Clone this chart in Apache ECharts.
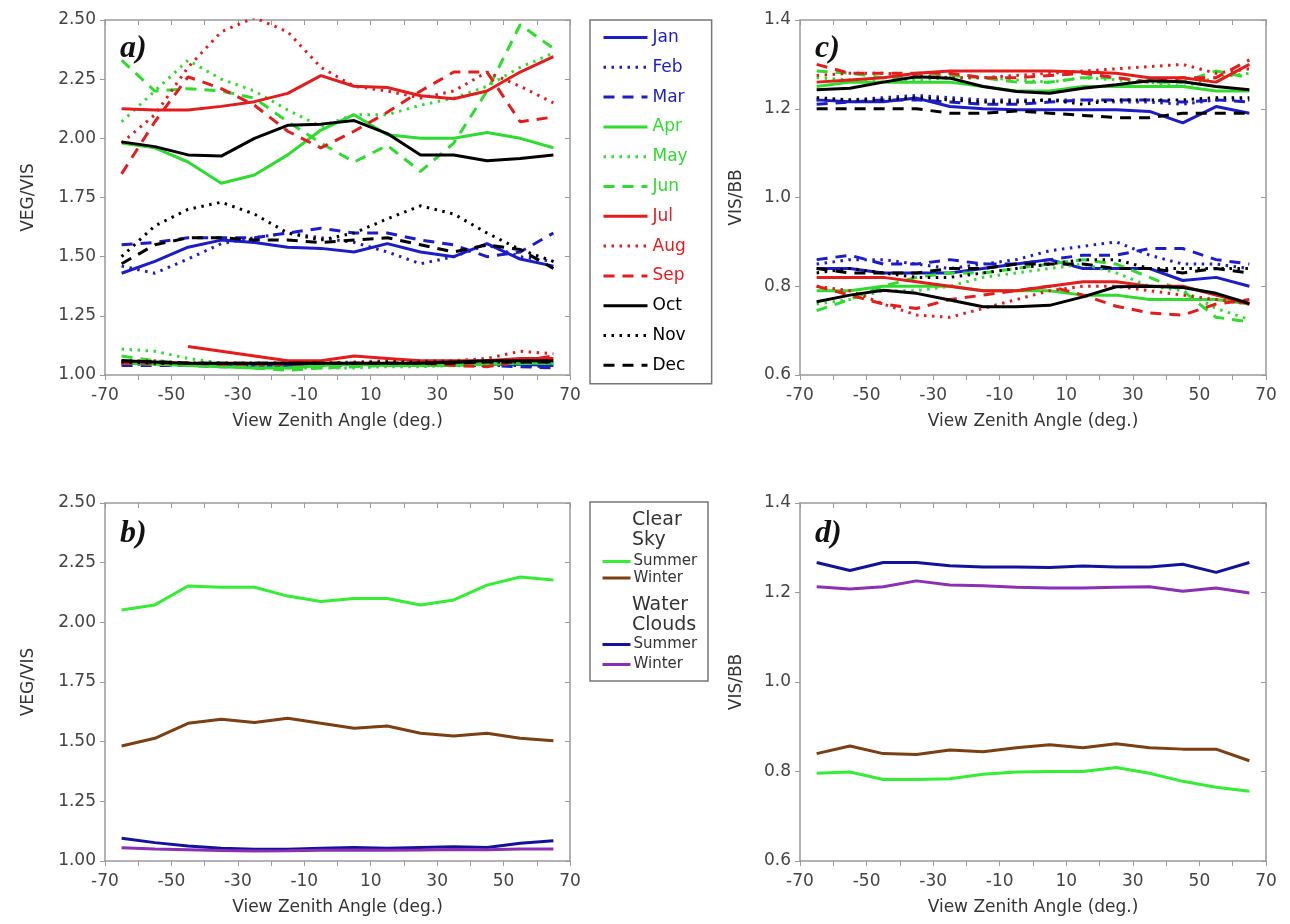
<!DOCTYPE html>
<html lang="en">
<head>
<meta charset="UTF-8">
<title>VEG/VIS and VIS/BB vs View Zenith Angle</title>
<script src="https://cdn.jsdelivr.net/npm/echarts@6.0.0/dist/echarts.min.js"></script>
<style>html, body { margin: 0; background: #fff; }</style>
</head>
<body>
<div id="main" style="width: 1290px; height: 924px;"></div>
<script>
// x positions (view zenith angle, deg.)
const angles = [-65, -55, -45, -35, -25, -15, -5, 5, 15, 25, 35, 45, 55, 65];
const months = ['Jan', 'Feb', 'Mar', 'Apr', 'May', 'Jun', 'Jul', 'Aug', 'Sep', 'Oct', 'Nov', 'Dec'];

// panel a) VEG/VIS, clear sky, one row per month
const vegVisClear = [
  [1.43, 1.48, 1.54, 1.57, 1.56, 1.54, 1.535, 1.52, 1.555, 1.52, 1.5, 1.555, 1.49, 1.46],     // Jan
  [1.46, 1.43, 1.49, 1.555, 1.58, 1.6, 1.58, 1.56, 1.52, 1.47, 1.5, 1.55, 1.5, 1.48],         // Feb
  [1.55, 1.56, 1.58, 1.58, 1.58, 1.6, 1.62, 1.6, 1.6, 1.57, 1.55, 1.5, 1.52, 1.6],            // Mar
  [1.98, 1.96, 1.9, 1.81, 1.845, 1.93, 2.035, 2.1, 2.015, 2.0, 2.0, 2.025, 2.0, 1.96],        // Apr
  [2.07, 2.2, 2.33, 2.25, 2.2, 2.12, 2.05, 2.1, 2.1, 2.14, 2.17, 2.22, 2.3, 2.36],            // May
  [2.33, 2.2, 2.21, 2.2, 2.17, 2.07, 1.98, 1.9, 1.97, 1.86, 1.98, 2.2, 2.48, 2.38],           // Jun
  [2.125, 2.12, 2.12, 2.135, 2.155, 2.19, 2.265, 2.22, 2.215, 2.18, 2.167, 2.2, 2.28, 2.345], // Jul
  [1.98, 2.1, 2.3, 2.45, 2.51, 2.45, 2.3, 2.22, 2.2, 2.17, 2.2, 2.28, 2.22, 2.15],            // Aug
  [1.85, 2.07, 2.26, 2.21, 2.14, 2.03, 1.96, 2.03, 2.11, 2.2, 2.28, 2.28, 2.07, 2.09],        // Sep
  [1.985, 1.965, 1.93, 1.925, 2.0, 2.055, 2.06, 2.075, 2.02, 1.93, 1.93, 1.905, 1.915, 1.93], // Oct
  [1.5, 1.63, 1.7, 1.73, 1.68, 1.6, 1.57, 1.6, 1.66, 1.715, 1.68, 1.6, 1.53, 1.48],           // Nov
  [1.47, 1.55, 1.58, 1.58, 1.57, 1.57, 1.56, 1.57, 1.58, 1.55, 1.52, 1.55, 1.53, 1.45]        // Dec
];
// panel a) VEG/VIS, water clouds
const vegVisCloud = [
  [1.05, 1.05, 1.045, 1.04, 1.04, 1.04, 1.045, 1.045, 1.045, 1.045, 1.045, 1.045, 1.045, 1.04],
  [1.045, 1.045, 1.04, 1.04, 1.035, 1.04, 1.04, 1.045, 1.045, 1.045, 1.04, 1.04, 1.04, 1.035],
  [1.04, 1.04, 1.04, 1.035, 1.035, 1.035, 1.04, 1.04, 1.04, 1.04, 1.04, 1.04, 1.035, 1.03],
  [1.05, 1.045, 1.04, 1.035, 1.03, 1.03, 1.04, 1.045, 1.04, 1.04, 1.04, 1.045, 1.05, 1.05],
  [1.11, 1.1, 1.07, 1.05, 1.04, 1.03, 1.03, 1.03, 1.035, 1.035, 1.04, 1.045, 1.05, 1.05],
  [1.08, 1.06, 1.05, 1.04, 1.03, 1.02, 1.03, 1.035, 1.04, 1.04, 1.045, 1.05, 1.05, 1.05],
  [null, null, 1.12, 1.1, 1.08, 1.06, 1.06, 1.08, 1.07, 1.06, 1.06, 1.06, 1.07, 1.07],
  [1.06, 1.06, 1.05, 1.05, 1.05, 1.05, 1.05, 1.055, 1.06, 1.06, 1.06, 1.07, 1.1, 1.09],
  [1.05, 1.05, 1.05, 1.045, 1.045, 1.045, 1.05, 1.05, 1.05, 1.05, 1.04, 1.035, 1.06, 1.08],
  [1.06, 1.055, 1.05, 1.05, 1.05, 1.05, 1.05, 1.05, 1.05, 1.05, 1.055, 1.06, 1.06, 1.06],
  [1.055, 1.05, 1.05, 1.05, 1.05, 1.05, 1.05, 1.05, 1.055, 1.055, 1.055, 1.055, 1.055, 1.055],
  [1.06, 1.055, 1.05, 1.05, 1.05, 1.05, 1.05, 1.05, 1.05, 1.05, 1.05, 1.055, 1.055, 1.055]
];
// panel c) VIS/BB, clear sky
const visBbClear = [
  [1.22, 1.216, 1.216, 1.224, 1.205, 1.2, 1.198, 1.198, 1.198, 1.198, 1.194, 1.168, 1.205, 1.19],
  [1.22, 1.22, 1.225, 1.23, 1.225, 1.22, 1.22, 1.22, 1.22, 1.215, 1.215, 1.21, 1.22, 1.22],
  [1.21, 1.215, 1.22, 1.22, 1.215, 1.21, 1.21, 1.215, 1.22, 1.22, 1.22, 1.215, 1.22, 1.215],
  [1.25, 1.26, 1.26, 1.26, 1.26, 1.25, 1.24, 1.24, 1.25, 1.25, 1.25, 1.25, 1.24, 1.24],
  [1.27, 1.265, 1.26, 1.265, 1.27, 1.27, 1.265, 1.26, 1.27, 1.265, 1.26, 1.25, 1.27, 1.28],
  [1.285, 1.28, 1.27, 1.27, 1.275, 1.27, 1.26, 1.26, 1.27, 1.27, 1.26, 1.26, 1.285, 1.27],
  [1.26, 1.265, 1.27, 1.28, 1.285, 1.285, 1.285, 1.285, 1.283, 1.28, 1.27, 1.27, 1.26, 1.3],
  [1.275, 1.28, 1.28, 1.275, 1.27, 1.27, 1.275, 1.28, 1.285, 1.29, 1.295, 1.3, 1.28, 1.29],
  [1.3, 1.28, 1.28, 1.28, 1.28, 1.27, 1.27, 1.275, 1.28, 1.27, 1.26, 1.27, 1.27, 1.31],
  [1.243, 1.246, 1.26, 1.272, 1.269, 1.25, 1.239, 1.235, 1.246, 1.254, 1.263, 1.261, 1.25, 1.243],
  [1.225, 1.22, 1.22, 1.225, 1.22, 1.215, 1.215, 1.22, 1.21, 1.22, 1.22, 1.22, 1.225, 1.225],
  [1.2, 1.2, 1.2, 1.2, 1.19, 1.19, 1.195, 1.19, 1.185, 1.18, 1.18, 1.19, 1.19, 1.19]
];
// panel c) VIS/BB, water clouds
const visBbCloud = [
  [0.84, 0.84, 0.83, 0.83, 0.83, 0.84, 0.85, 0.86, 0.84, 0.84, 0.84, 0.813, 0.82, 0.8],
  [0.85, 0.86, 0.86, 0.85, 0.84, 0.85, 0.86, 0.88, 0.89, 0.9, 0.87, 0.85, 0.85, 0.84],
  [0.86, 0.87, 0.85, 0.85, 0.86, 0.85, 0.85, 0.86, 0.87, 0.87, 0.885, 0.885, 0.86, 0.85],
  [0.79, 0.79, 0.8, 0.8, 0.8, 0.79, 0.79, 0.79, 0.78, 0.78, 0.77, 0.77, 0.77, 0.76],
  [0.76, 0.77, 0.79, 0.79, 0.8, 0.82, 0.83, 0.84, 0.85, 0.83, 0.8, 0.79, 0.75, 0.725],
  [0.745, 0.77, 0.8, 0.82, 0.83, 0.83, 0.84, 0.85, 0.86, 0.85, 0.82, 0.79, 0.73, 0.72],
  [0.82, 0.82, 0.82, 0.81, 0.8, 0.79, 0.79, 0.8, 0.81, 0.81, 0.8, 0.8, 0.78, 0.76],
  [0.8, 0.79, 0.76, 0.735, 0.73, 0.75, 0.77, 0.79, 0.8, 0.8, 0.79, 0.78, 0.77, 0.76],
  [0.8, 0.78, 0.76, 0.75, 0.77, 0.78, 0.79, 0.8, 0.78, 0.755, 0.74, 0.735, 0.76, 0.77],
  [0.765, 0.78, 0.791, 0.784, 0.769, 0.754, 0.754, 0.757, 0.776, 0.799, 0.8, 0.797, 0.784, 0.761],
  [0.83, 0.84, 0.83, 0.82, 0.82, 0.83, 0.84, 0.85, 0.86, 0.86, 0.84, 0.84, 0.84, 0.84],
  [0.84, 0.83, 0.83, 0.83, 0.84, 0.84, 0.85, 0.85, 0.85, 0.84, 0.84, 0.83, 0.84, 0.83]
];

// panel b) seasonal VEG/VIS
const vegVisClearSummer = [2.052, 2.073, 2.152, 2.147, 2.147, 2.11, 2.087, 2.1, 2.1, 2.073, 2.094, 2.156, 2.19, 2.177];
const vegVisClearWinter = [1.482, 1.514, 1.577, 1.594, 1.58, 1.598, 1.577, 1.556, 1.566, 1.535, 1.524, 1.535, 1.514, 1.504];
const vegVisCloudSummer = [1.095, 1.077, 1.063, 1.053, 1.049, 1.049, 1.053, 1.057, 1.053, 1.057, 1.06, 1.057, 1.074, 1.085];
const vegVisCloudWinter = [1.055, 1.05, 1.047, 1.044, 1.042, 1.043, 1.045, 1.046, 1.045, 1.046, 1.048, 1.047, 1.05, 1.05];
// panel d) seasonal VIS/BB
const visBbClearSummer = [0.796, 0.799, 0.782, 0.782, 0.784, 0.794, 0.799, 0.8, 0.8, 0.809, 0.796, 0.778, 0.765, 0.756];
const visBbClearWinter = [0.84, 0.857, 0.84, 0.838, 0.848, 0.844, 0.853, 0.86, 0.853, 0.862, 0.853, 0.85, 0.85, 0.824];
const visBbCloudSummer = [1.267, 1.249, 1.267, 1.267, 1.26, 1.257, 1.257, 1.256, 1.259, 1.257, 1.257, 1.263, 1.245, 1.267];
const visBbCloudWinter = [1.213, 1.208, 1.213, 1.226, 1.217, 1.215, 1.212, 1.21, 1.21, 1.212, 1.213, 1.203, 1.21, 1.199];

// styles
const monthColors = ['#1c1cc8', '#1c1cc8', '#1c1cc8', '#2edc2e', '#2edc2e', '#2edc2e',
                     '#e51c1c', '#e51c1c', '#e51c1c', '#000000', '#000000', '#000000'];
const dotted = [2.5, 5.5], dashed = [11, 8];
const monthTypes = ['solid', dotted, dashed, 'solid', dotted, dashed, 'solid', dotted, dashed, 'solid', dotted, dashed];
const seasonColors = {
  'Clear Sky Summer': '#33ee33', 'Clear Sky Winter': '#7b3f12',
  'Water Clouds Summer': '#12129c', 'Water Clouds Winter': '#8b2fb5'
};

const axisColor = '#9a9a9a';
const font = 'DejaVu Sans';

function lineSeries(name, grid, values, color, type) {
  return {
    name: name, type: 'line', xAxisIndex: grid * 2, yAxisIndex: grid * 2,
    data: angles.map((a, i) => [a, values[i] == null ? '-' : values[i]]),
    symbol: 'none', color: color,
    lineStyle: { color: color, width: 3, type: type, cap: 'butt' },
    emphasis: { disabled: true }
  };
}

function xAxes(g) {
  return [{
    gridIndex: g, type: 'value', min: -70, max: 70, interval: 10,
    axisLine: { onZero: false, lineStyle: { color: axisColor, width: 1.5 } },
    axisTick: { length: 5, lineStyle: { color: axisColor } },
    axisLabel: { margin: 12, fontFamily: font, fontSize: 17, color: '#444',
                 formatter: v => ((v + 70) % 20 === 0 ? String(v) : '') },
    splitLine: { show: false },
    name: 'View Zenith Angle (deg.)', nameLocation: 'middle', nameGap: 38,
    nameTextStyle: { fontFamily: font, fontSize: 17, color: '#333' }
  }, {
    gridIndex: g, type: 'value', position: 'top', min: -70, max: 70, interval: 10,
    axisLine: { onZero: false, lineStyle: { color: axisColor, width: 1.5 } },
    axisTick: { inside: true, length: 5, lineStyle: { color: axisColor } },
    axisLabel: { show: false }, splitLine: { show: false }
  }];
}

function yAxes(g, min, max, step, dec, name, gap) {
  return [{
    gridIndex: g, type: 'value', min: min, max: max, interval: step,
    axisLine: { onZero: false, lineStyle: { color: axisColor, width: 1.5 } },
    axisTick: { length: 5, lineStyle: { color: axisColor } },
    axisLabel: { margin: 9, fontFamily: font, fontSize: 17, color: '#444',
                 formatter: v => v.toFixed(dec) },
    splitLine: { show: false },
    name: name, nameLocation: 'middle', nameGap: gap,
    nameTextStyle: { fontFamily: font, fontSize: 17, color: '#333' }
  }, {
    gridIndex: g, type: 'value', position: 'right', min: min, max: max, interval: step,
    axisLine: { onZero: false, lineStyle: { color: axisColor, width: 1.5 } },
    axisTick: { inside: true, length: 5, lineStyle: { color: axisColor } },
    axisLabel: { show: false }, splitLine: { show: false }
  }];
}

// grid order: 0 = a, 1 = c, 2 = b, 3 = d
let series = [];
months.forEach((m, i) => {
  series.push(lineSeries(m, 0, vegVisClear[i], monthColors[i], monthTypes[i]));
  series.push(lineSeries(m, 0, vegVisCloud[i], monthColors[i], monthTypes[i]));
  series.push(lineSeries(m, 1, visBbClear[i], monthColors[i], monthTypes[i]));
  series.push(lineSeries(m, 1, visBbCloud[i], monthColors[i], monthTypes[i]));
});
const seasonB = [vegVisClearSummer, vegVisClearWinter, vegVisCloudSummer, vegVisCloudWinter];
const seasonD = [visBbClearSummer, visBbClearWinter, visBbCloudSummer, visBbCloudWinter];
Object.keys(seasonColors).forEach((name, i) => {
  series.push(lineSeries(name, 2, seasonB[i], seasonColors[name], 'solid'));
  series.push(lineSeries(name, 3, seasonD[i], seasonColors[name], 'solid'));
});

function panelLabel(t, x, y) {
  return { type: 'text', x: x, y: y, z: 100,
           style: { text: t, font: 'italic bold 32px "Liberation Serif"', fill: '#111', verticalAlign: 'middle' } };
}
function legendHead(t, x, y) {
  return { type: 'text', x: x, y: y,
           style: { text: t, font: '19px "DejaVu Sans"', fill: '#333', verticalAlign: 'middle' } };
}

// legend icons: keep only the line sample (hide the default circle)
const seasonLegend = (names, top, gap) => ({
  left: 601, top: top, orient: 'vertical', padding: 0,
  data: names, itemWidth: 28, itemHeight: 14, itemGap: gap,
  formatter: n => n.split(' ').pop(),
  lineStyle: { width: 3 }, itemStyle: { opacity: 0 },
  textStyle: { fontFamily: font, fontSize: 15, color: '#333', padding: [0, 0, 0, -2] }
});

let myChart = echarts.init(document.getElementById('main'));
let options = {
  animation: false,
  backgroundColor: '#fff',
  grid: [
    { left: 105, top: 20, width: 465, height: 355 },
    { left: 800, top: 20, width: 466, height: 355 },
    { left: 105, top: 503, width: 465, height: 358 },
    { left: 800, top: 503, width: 466, height: 358 }
  ],
  xAxis: [].concat(xAxes(0), xAxes(1), xAxes(2), xAxes(3)),
  yAxis: [].concat(
    yAxes(0, 1.0, 2.5, 0.25, 2, 'VEG/VIS', 68),
    yAxes(1, 0.6, 1.4, 0.2, 1, 'VIS/BB', 55),
    yAxes(2, 1.0, 2.5, 0.25, 2, 'VEG/VIS', 68),
    yAxes(3, 0.6, 1.4, 0.2, 1, 'VIS/BB', 55)
  ),
  legend: [
    {
      left: 590, top: 20, orient: 'vertical',
      data: months.map((m, i) => ({ name: m, textStyle: { color: monthColors[i] } })),
      itemWidth: 44, itemHeight: 16, itemGap: 12.8,
      padding: [9, 24, 10, 12],
      borderColor: '#777', borderWidth: 1.5,
      lineStyle: { width: 3 }, itemStyle: { opacity: 0 },
      textStyle: { fontFamily: font, fontSize: 17 }
    },
    seasonLegend(['Clear Sky Summer', 'Clear Sky Winter'], 554, 1.5),
    seasonLegend(['Water Clouds Summer', 'Water Clouds Winter'], 637, 5)
  ],
  graphic: [
    panelLabel('a)', 120, 49),
    panelLabel('c)', 815, 49),
    panelLabel('b)', 120, 534),
    panelLabel('d)', 815, 534),
    { type: 'rect', shape: { x: 590, y: 502, width: 118, height: 179 },
      style: { fill: 'none', stroke: '#777', lineWidth: 1.5 } },
    legendHead('Clear', 632, 520),
    legendHead('Sky', 632, 540),
    legendHead('Water', 632, 605),
    legendHead('Clouds', 632, 625)
  ],
  series: series
};
myChart.setOption(options);
</script>
</body>
</html>
